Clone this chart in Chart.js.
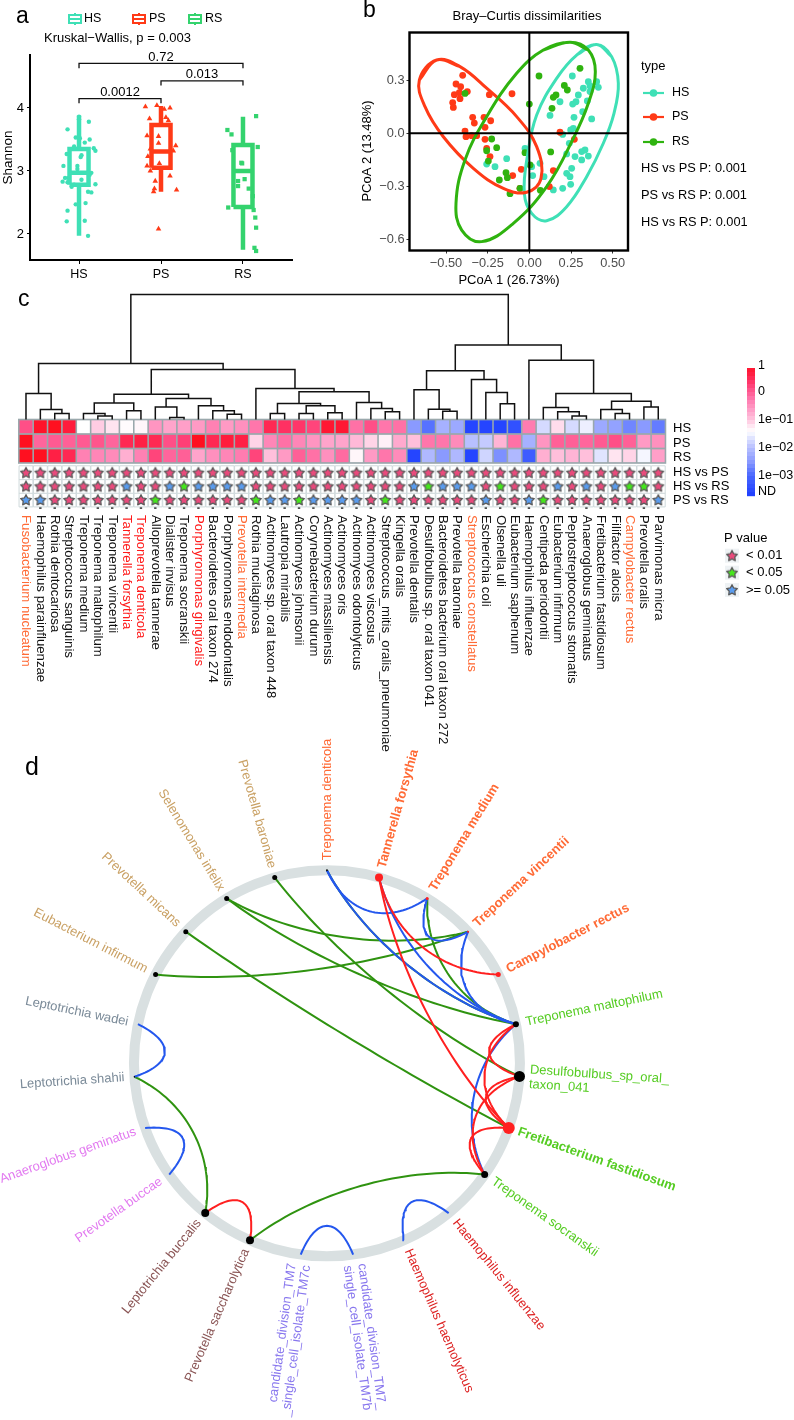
<!DOCTYPE html>
<html>
<head>
<meta charset="utf-8">
<title>Oral microbiome figure</title>
<script src="https://cdn.jsdelivr.net/npm/chart.js@4"></script>
<style>
  body { margin: 0; background: #fff; }
  #page { position: relative; width: 794px; height: 1420px; overflow: hidden; }
  canvas { position: absolute; }
</style>
</head>
<body>
<div id="page">
  <canvas id="panelD" width="794" height="690" style="left:0;top:730px"></canvas>
  <canvas id="panelC" width="794" height="470" style="left:0;top:285px"></canvas>
  <canvas id="panelA" width="340" height="290" style="left:0;top:0"></canvas>
  <canvas id="panelB" width="454" height="290" style="left:340px;top:0"></canvas>
</div>
<script>
// ---------- panel a data ----------
const groups = ['HS', 'PS', 'RS'];
const boxLow = [1.97, 2.67, 1.75];
const boxQ1 = [2.78, 3.05, 2.43];
const boxMedian = [2.97, 3.31, 3.00];
const boxQ3 = [3.35, 3.73, 3.41];
const boxHigh = [3.88, 4.03, 3.86];
const shannonHS = [[1.00,3.86],[1.00,3.82],[1.12,3.78],[0.86,3.66],[0.96,3.53],[1.01,3.52],[1.13,3.50],[1.07,3.45],[1.18,3.36],[1.20,3.32],[0.94,3.39],[0.85,3.27],[1.03,3.25],[1.02,3.22],[0.81,3.08],[0.98,3.08],[0.98,3.03],[1.15,2.97],[1.13,2.94],[0.83,2.89],[0.87,2.89],[0.80,2.83],[0.86,2.82],[1.03,2.86],[0.91,2.75],[0.94,2.78],[1.20,2.79],[1.11,2.67],[1.15,2.66],[0.96,2.47],[1.08,2.49],[0.86,2.37],[0.85,2.20],[1.07,2.21],[1.11,1.97]];
const shannonPS = [[1.81,4.02],[1.95,4.04],[2.04,3.98],[2.11,4.00],[1.86,3.83],[2.06,3.85],[2.09,3.80],[1.83,3.56],[1.97,3.55],[1.97,3.44],[2.18,3.40],[1.87,3.35],[2.15,3.32],[1.84,3.23],[1.83,3.08],[1.98,3.12],[1.87,3.00],[2.11,2.92],[1.93,2.84],[1.92,2.72],[1.91,2.67],[2.19,2.70],[1.97,2.08]];
const shannonRS = [[3.16,3.87],[2.81,3.65],[2.86,3.58],[3.18,3.38],[2.87,3.33],[2.98,3.13],[2.99,3.12],[3.02,2.87],[2.94,2.84],[2.94,2.76],[3.07,2.72],[3.12,2.60],[2.82,2.42],[3.13,2.38],[3.15,2.26],[3.16,2.10],[3.14,1.78],[3.16,1.73]];
const bracketFrom = [1, 2, 1];
const bracketTo = [3, 3, 2];
const bracketLevel = [4.706, 4.43, 4.148];
const bracketLabels = ['0.72', '0.013', '0.0012'];

// ---------- panel b data ----------
const pcoaHS = [[.258,.323],[.354,.291],[.404,.291],[.364,.267],[.414,.259],[.324,.254],[.364,.235],[.294,.216],[.348,.182],[.280,.178],[.260,.165],[.184,.178],[.320,.122],[.124,.101],[.268,.090],[.374,.081],[.264,.028],[.248,.019],[.200,-.006],[.240,-.056],[.334,-.094],[.314,-.103],[.354,-.128],[.224,-.116],[.274,-.131],[.314,-.150],[-.026,-.085],[-.136,-.143],[-.256,-.173],[-.206,-.188],[.254,-.197],[.244,-.244],[.224,-.225],[.020,-.238],[.088,-.244],[.248,-.287],[.200,-.310],[.144,-.319],[.064,-.169],[.014,-.188]];
const pcoaPS = [[-.400,.327],[-.440,.278],[-.412,.263],[-.372,.235],[-.420,.229],[-.450,.218],[-.416,.195],[-.240,.218],[-.104,.223],[-.460,.173],[-.456,.146],[-.340,.090],[-.272,.090],[-.232,.071],[-.330,.058],[-.266,.034],[-.386,.013],[-.380,-.019],[-.346,-.013],[-.316,-.013],[-.266,-.034],[.184,.006],[.270,-.034],[-.256,-.085],[-.236,-.131],[-.100,-.238],[-.048,-.203],[.144,-.210],[.120,-.300],[-.056,-.310]];
const pcoaRS = [[.304,.366],[.058,.323],[.210,.270],[.228,.244],[.160,.216],[.144,.203],[-.386,.225],[.000,.165],[.136,.141],[-.226,-.032],[-.196,-.081],[-.256,-.098],[-.026,-.109],[.128,-.105],[-.246,-.156],[.004,-.178],[-.140,-.222],[-.132,-.250],[-.180,-.263],[-.056,-.310],[.066,-.321],[-.116,-.340]];
const ellipseHS = [[.404,.501],[.494,.432],[.534,.282],[.508,.113],[.444,-.056],[.344,-.244],[.224,-.413],[.104,-.492],[.014,-.451],[-.030,-.338],[-.012,-.131],[.044,.103],[.164,.310],[.284,.441]];
const ellipsePS = [[-.556,.413],[-.660,.300],[-.626,.150],[-.516,-.019],[-.336,-.197],[-.156,-.310],[-.016,-.332],[.070,-.254],[.044,-.075],[-.076,.094],[-.256,.254],[-.416,.376]];
const ellipseRS = [[.244,.513],[.354,.469],[.396,.347],[.354,.169],[.264,-.028],[.104,-.300],[-.096,-.507],[-.286,-.610],[-.406,-.545],[-.440,-.394],[-.386,-.150],[-.256,.094],[-.076,.338],[.084,.469]];

// ---------- panel c data ----------
const taxa = ['Fusobacterium nucleatum','Haemophilus parainfluenzae','Rothia dentocariosa','Streptococcus sanguinis','Treponema medium','Treponema maltophilum','Treponema vincentii','Tannerella forsythia','Treponema denticola','Alloprevotella tannerae','Dialister invisus','Treponema socranskii','Porphyromonas gingivalis','Bacteroidetes oral taxon 274','Porphyromonas endodontalis','Prevotella intermedia','Rothia mucilaginosa','Actinomyces sp. oral taxon 448','Lautropia mirabilis','Actinomyces johnsonii','Corynebacterium durum','Actinomyces massiliensis','Actinomyces oris','Actinomyces odontolyticus','Actinomyces viscosus','Streptococcus_mitis_oralis_pneumoniae','Kingella oralis','Prevotella dentalis','Desulfobulbus sp. oral taxon 041','Bacteroidetes bacterium oral taxon 272','Prevotella baroniae','Streptococcus constellatus','Escherichia coli','Olsenella uli','Eubacterium saphenum','Haemophilus influenzae','Centipeda periodontii','Eubacterium infirmum','Peptostreptococcus stomatis','Anaeroglobus geminatus','Fretibacterium fastidiosum','Filifactor alocis','Campylobacter rectus','Prevotella oralis','Parvimonas micra'];
const redTaxa = ['Tannerella forsythia','Treponema denticola','Porphyromonas gingivalis'];
const orangeTaxa = ['Fusobacterium nucleatum','Prevotella intermedia','Streptococcus constellatus','Campylobacter rectus'];
// abundance on the colour key: 1, 0, -1 = 1e-01, -2 = 1e-02, -3 = 1e-03, -3.6 = ND
const heatHS = [.1,.9,1,.7,-1.43,-1.05,-1.2,-1.4,-1.35,-.55,-.7,-.65,-.6,-.35,-.6,-.5,-.25,.5,.4,.35,.2,.8,.8,-.2,.1,-.25,-.2,-2.5,-2.9,-2.2,-2.3,-3.6,-3.6,-3.6,-3.4,-.3,-1.75,-1.15,-1.75,-1.55,-2.3,-2.4,-2.7,-2.5,-2.8];
const heatPS = [1,-.1,0,-.05,0,.05,-.1,.5,.6,.5,.1,.25,1,.5,.7,.6,-1.1,-.4,-.2,-.4,-.55,-.7,-.7,-.9,-1.1,-1.3,-.75,-.95,-.25,-.25,-.45,-2,-1.9,-.85,-.2,-2.2,-.55,-.05,-.05,-.1,0,.1,-.05,-.6,-.5];
const heatRS = [1,1,.6,.5,-.35,-.4,-.45,-.8,-.35,.2,-.1,-.05,-.7,-.5,-.4,-.3,.2,-.95,-.6,-.05,-.2,-.5,-.15,-1.35,-.6,-.25,-.45,-3.6,-2.1,-2.5,-2.1,-3.6,-1.8,-2.6,-2.1,-3.2,-.8,-.95,-.85,-.95,-1.65,-1.2,-1.1,-1.5,-.65];
const heatKeyLabels = ['1','0','1e\u221201','1e\u221202','1e\u221203','ND'];
const heatKeyValues = [.92,0,-1,-2,-3,-3.6];
// p = <0.01, g = <0.05, b = >=0.05
const sigHSvsPS = 'ppppppppppppppppppppppppppppppppppppppppppppp';
const sigHSvsRS = 'pppppppbppbgbbbbpppppppppppbgbbbpgpppbpbpbggp';
const sigPSvsRS = 'bbpppppppgppppppgbbgbbbbpgppppppbppbgpppppppb';
const contrastLabels = ['HS vs PS', 'HS vs RS', 'PS vs RS'];
// hclust style merges: negative = leaf number, positive = earlier merge row (1 based), then height
const merges = [[-3,-4,.41],[-2,1,.69],[-1,2,1.79],[-6,-7,.25],[-5,4,.41],[-8,-9,.60],[5,6,1.13],[-11,-12,.14],[-10,8,.87],[-15,-16,.37],[-14,10,.60],[-13,11,.94],[9,12,1.45],[7,13,1.75],[-18,-19,.41],[-20,-21,.41],[-22,-23,.46],[16,17,.94],[15,18,1.10],[-26,-27,.53],[-25,20,.76],[-24,21,1.17],[19,22,1.91],[-17,23,2.14],[14,24,3.45],[3,25,3.86],[-30,-31,.57],[-29,27,.71],[-28,28,2.05],[-34,-35,1.08],[-33,30,1.86],[-32,31,2.76],[29,32,3.36],[-39,-40,.25],[-38,34,.53],[-37,35,.83],[-42,-43,.41],[-41,37,.69],[-44,-45,.87],[38,39,1.26],[36,40,1.79],[-36,41,4.09],[33,42,5.13],[26,43,8.62]];

// ---------- panel d data ----------
const nodeNames = ['Treponema denticola','Tannerella forsythia','Treponema medium','Treponema vincentii','Campylobacter rectus','Treponema maltophilum','Desulfobulbus_sp_oral_\ntaxon_041','Fretibacterium fastidiosum','Treponema socranskii','Haemophilus influenzae','Haemophilus haemolyticus','candidate_division_TM7_\nsingle_cell_isolate_TM7b','candidate_division_TM7\n_single_cell_isolate_TM7c','Prevotella saccharolytica','Leptotrichia buccalis','Prevotella buccae','Anaeroglobus geminatus','Leptotrichia shahii','Leptotrichia wadei','Eubacterium infirmum','Prevotella micans','Selenomonas infelix','Prevotella baroniae'];
const nodeAngles = [90,74.35,58.7,43,27.4,11.7,-3.9,-19.6,-35.2,-50.9,-66.5,-82.2,-97.8,-113.5,-129.1,-144.8,-160.4,-176,168.3,152.6,137,121.3,105.7];
const nodeSizes = [1,4,1.5,1,2.5,3,5.5,6,3.5,0,0,0,0,4,4,0,0,.8,0,2.5,2.5,2.5,2.5];
const nodeDotColors = ['#111','#ff2020','#ff2020','#ff2020','#ff2020','#000','#000','#ff2020','#000','#000','#000','#000','#000','#000','#000','#000','#000','#000','#000','#000','#000','#000','#000'];
const nodeLabelColors = ['#ff6a35','#ff6a35','#ff6a35','#ff6a35','#ff6a35','#55cc22','#55cc22','#55cc22','#55cc22','#dd2222','#dd2222','#8877ee','#8877ee','#8a5555','#8a5555','#e27af0','#e27af0','#7a8a98','#7a8a98','#c9a063','#c9a063','#c9a063','#c9a063'];
const boldNodes = [1,2,3,4,7];
const greenEdges = [[0,5],[2,5],[3,19],[3,21],[5,21],[6,22],[7,20],[17,14],[8,13]];
const blueEdges = [[0,2],[0,5],[1,5],[2,3],[3,5],[5,8],[18,17],[16,15],[12,11],[10,9]];
const redEdges = [[1,7],[1,4],[5,6],[5,7],[6,7],[6,8],[7,8],[14,13]];

// ---------- shared helpers ----------
const FONT = '"Liberation Sans", Arial, sans-serif';
const colHS = '#3fe0b6', colPS = '#ff3a17', colRS = '#34d36e', colRSb = '#2fb30f';

function toXY(list) { return list.map(p => ({ x: p[0], y: p[1] })); }

function txt(ctx, text, x, y, o) {
    o = o || {};
    ctx.save();
    ctx.translate(x, y);
    if (o.rot) ctx.rotate(o.rot * Math.PI / 180);
    ctx.font = (o.bold ? 'bold ' : '') + (o.size || 13) + 'px ' + FONT;
    ctx.fillStyle = o.color || '#000';
    ctx.textAlign = o.align || 'left';
    ctx.textBaseline = 'middle';
    ctx.fillText(text, 0, 0);
    ctx.restore();
}

function fixedWidth(w) { return s => { s.width = w; }; }
function fixedHeight(h) { return s => { s.height = h; }; }
function setTicks(values) { return s => { s.ticks = values.map(v => ({ value: v })); }; }

// repeat the ends so the smoothed outline closes without a kink
function closeLoop(list) {
    const n = list.length;
    return toXY([list[n - 1]].concat(list, [list[0], list[1]]));
}

const baseOptions = { responsive: false, animation: false, events: [], plugins: { legend: { display: false }, tooltip: { enabled: false } } };

// ---------- panel a ----------
function boxPath(i) {
    const c = i + 1, w = 0.116;
    return [
        { x: c, y: boxLow[i] }, { x: c, y: boxQ1[i] }, { x: c, y: null },
        { x: c, y: boxQ3[i] }, { x: c, y: boxHigh[i] }, { x: c, y: null },
        { x: c - w, y: boxQ1[i] }, { x: c + w, y: boxQ1[i] }, { x: c + w, y: boxQ3[i] }, { x: c - w, y: boxQ3[i] }, { x: c - w, y: boxQ1[i] }, { x: c, y: null },
        { x: c - w, y: boxMedian[i] }, { x: c + w, y: boxMedian[i] }
    ];
}
function bracketPath() {
    const pts = [];
    bracketLevel.forEach((lv, i) => {
        pts.push({ x: bracketFrom[i], y: lv - 0.075 }, { x: bracketFrom[i], y: lv }, { x: bracketTo[i], y: lv }, { x: bracketTo[i], y: lv - 0.075 }, { x: bracketTo[i], y: null });
    });
    return pts;
}
const lineSet = (data, color, width) => ({ data, showLine: true, borderColor: color, borderWidth: width, pointRadius: 0, spanGaps: false, clip: false, tension: 0, borderJoinStyle: 'miter' });
const panelAText = {
    id: 'panelAText',
    afterDraw(chart) {
        const c = chart.ctx, sx = chart.scales.x;
        txt(c, 'a', 16, 17, { size: 23 });
        txt(c, 'Kruskal\u2212Wallis, p = 0.003', 44, 38, { size: 13 });
        const keyX = [69, 133, 189], textX = [84, 149, 205], cols = [colHS, colPS, colRS];
        groups.forEach((g, i) => {
            c.strokeStyle = cols[i]; c.lineWidth = 2;
            c.strokeRect(keyX[i], 15, 12, 8);
            c.beginPath();
            c.moveTo(keyX[i], 19); c.lineTo(keyX[i] + 12, 19);
            c.moveTo(keyX[i] + 6, 13); c.lineTo(keyX[i] + 6, 15);
            c.moveTo(keyX[i] + 6, 23); c.lineTo(keyX[i] + 6, 25);
            c.stroke();
            txt(c, g, textX[i], 19, { size: 12.5 });
        });
        bracketLabels.forEach((t, i) => {
            const mid = (bracketFrom[i] + bracketTo[i]) / 2;
            txt(c, t, sx.getPixelForValue(mid), chart.scales.y.getPixelForValue(bracketLevel[i]) - 6.5, { size: 13, align: 'center' });
        });
    }
};
new Chart(document.getElementById('panelA'), {
    type: 'scatter',
    data: { datasets: [
        lineSet(bracketPath(), '#111', 1.3),
        lineSet(boxPath(0), colHS, 4.5),
        lineSet(boxPath(1), colPS, 4.5),
        lineSet(boxPath(2), colRS, 4.5),
        { data: toXY(shannonHS), pointStyle: 'circle', pointRadius: 2.2, pointBorderWidth: 0, pointBackgroundColor: colHS },
        { data: toXY(shannonPS), pointStyle: 'triangle', pointRadius: 3.2, pointBorderWidth: 0, pointBackgroundColor: colPS },
        { data: toXY(shannonRS), pointStyle: 'rect', pointRadius: 3, pointBorderWidth: 0, pointBackgroundColor: colRS }
    ] },
    options: Object.assign({}, baseOptions, {
        layout: { autoPadding: false, padding: { top: 55, right: 48 } },
        scales: {
            x: { type: 'linear', min: 0.402, max: 3.598, afterFit: fixedHeight(30), afterBuildTicks: setTicks([1, 2, 3]),
                border: { display: true, width: 2, color: '#000' }, grid: { drawOnChartArea: false, tickLength: 4, color: '#000' },
                ticks: { autoSkip: false, maxRotation: 0, padding: 3, color: '#000', font: { family: FONT, size: 12.5 }, callback: v => groups[v - 1] } },
            y: { type: 'linear', min: 1.587, max: 4.84, afterFit: fixedWidth(30), afterBuildTicks: setTicks([2, 3, 4]),
                border: { display: true, width: 2, color: '#000' }, grid: { drawOnChartArea: false, tickLength: 3, color: '#000' },
                title: { display: true, text: 'Shannon', color: '#000', padding: 0, font: { family: FONT, size: 13.5 } },
                ticks: { padding: 3, color: '#000', font: { family: FONT, size: 13 } } }
        }
    }),
    plugins: [panelAText]
});

// ---------- panel b ----------
const panelBText = {
    id: 'panelBText',
    afterDraw(chart) {
        const c = chart.ctx, a = chart.chartArea;
        c.strokeStyle = '#000'; c.lineWidth = 2.4;
        c.strokeRect(a.left, a.top, a.right - a.left, a.bottom - a.top);
        txt(c, 'b', 23, 11, { size: 23 });
        txt(c, 'Bray\u2013Curtis dissimilarities', 187, 16, { size: 13, align: 'center' });
        txt(c, 'PCoA 1 (26.73%)', 169, 280, { size: 13, align: 'center' });
        txt(c, 'PCoA 2 (13.48%)', 27, 151, { size: 13, align: 'center', rot: -90 });
        txt(c, 'type', 301, 66, { size: 13 });
        const keyY = [93, 117, 142], cols = [colHS, colPS, colRSb];
        groups.forEach((g, i) => {
            c.strokeStyle = cols[i]; c.lineWidth = 2.2;
            c.beginPath(); c.moveTo(303, keyY[i]); c.lineTo(324, keyY[i]); c.stroke();
            c.fillStyle = cols[i];
            c.beginPath(); c.arc(313.5, keyY[i], 3.8, 0, Math.PI * 2); c.fill();
            txt(c, g, 332, keyY[i], { size: 12.5 });
        });
        ['HS vs PS P: 0.001', 'PS vs RS P: 0.001', 'HS vs RS P: 0.001'].forEach((t, i) => {
            txt(c, t, 301, [168, 195, 222][i], { size: 12.8 });
        });
    }
};
const ellipseSet = (list, color) => Object.assign(lineSet(closeLoop(list), color, 3), { tension: 0.4 });
const dotSet = (list, color) => ({ data: toXY(list), pointRadius: 3.4, pointBorderWidth: 0, pointBackgroundColor: color });
new Chart(document.getElementById('panelB'), {
    type: 'scatter',
    data: { datasets: [
        lineSet([{ x: 0, y: -0.66 }, { x: 0, y: 0.568 }, { x: 0, y: null }, { x: -0.719, y: 0 }, { x: 0.592, y: 0 }], '#000', 2),
        ellipseSet(ellipseRS, colRSb),
        ellipseSet(ellipsePS, colPS),
        ellipseSet(ellipseHS, colHS),
        dotSet(pcoaRS, colRSb),
        dotSet(pcoaPS, colPS),
        dotSet(pcoaHS, colHS)
    ] },
    options: Object.assign({}, baseOptions, {
        layout: { autoPadding: false, padding: { top: 32.5, right: 166 } },
        scales: {
            x: { type: 'linear', min: -0.719, max: 0.592, afterFit: fixedHeight(39.5), afterBuildTicks: setTicks([-0.5, -0.25, 0, 0.25, 0.5]),
                border: { display: false }, grid: { drawOnChartArea: false, tickLength: 3, color: '#333' },
                ticks: { autoSkip: false, maxRotation: 0, padding: 2, color: '#4d4d4d', font: { family: FONT, size: 12.8 }, callback: v => v.toFixed(2).replace('-', '\u2212') } },
            y: { type: 'linear', min: -0.66, max: 0.568, afterFit: fixedWidth(69.5), afterBuildTicks: setTicks([-0.6, -0.3, 0, 0.3]),
                border: { display: false }, grid: { drawOnChartArea: false, tickLength: 3, color: '#333' },
                ticks: { padding: 2, color: '#4d4d4d', font: { family: FONT, size: 12.8 }, callback: v => v.toFixed(1).replace('-', '\u2212') } }
        }
    }),
    plugins: [panelBText]
});

// ---------- panel c ----------
const heatStops = [[-3.7,'#1f3fff'],[-3,'#4a68ff'],[-2.5,'#8a9aff'],[-2,'#b8c0ff'],[-1.6,'#e6e9ff'],[-1.43,'#ffffff'],[-1.2,'#ffe4f0'],[-1,'#ffc4de'],[-.7,'#ffa4cb'],[-.3,'#ff7cb0'],[0,'#ff5a92'],[.3,'#ff3a70'],[.6,'#ff2045'],[1,'#ff1020']];
function heatColor(v) {
    if (v <= heatStops[0][0]) return heatStops[0][1];
    for (let i = 1; i < heatStops.length; i++) {
        if (v <= heatStops[i][0]) {
            const [v0, c0] = heatStops[i - 1], [v1, c1] = heatStops[i];
            const t = (v - v0) / (v1 - v0);
            const ch = k => {
                const a = parseInt(c0.substr(k, 2), 16), b = parseInt(c1.substr(k, 2), 16);
                return Math.round(a + (b - a) * t);
            };
            return 'rgb(' + ch(1) + ',' + ch(3) + ',' + ch(5) + ')';
        }
    }
    return heatStops[heatStops.length - 1][1];
}

function starImage(fill) {
    const cv = document.createElement('canvas');
    cv.width = 14; cv.height = 14;
    const c = cv.getContext('2d');
    c.beginPath();
    for (let i = 0; i < 10; i++) {
        const r = i % 2 ? 2.9 : 5.6, a = -Math.PI / 2 + i * Math.PI / 5;
        c[i ? 'lineTo' : 'moveTo'](7 + r * Math.cos(a), 7.3 + r * Math.sin(a));
    }
    c.closePath();
    c.fillStyle = fill; c.fill();
    c.strokeStyle = '#5c5c5c'; c.lineWidth = 1.3; c.lineJoin = 'round'; c.stroke();
    return cv;
}
const stars = { p: starImage('#ea4a7c'), g: starImage('#45e61c'), b: starImage('#5a9cee') };

function dendrogramPath() {
    const nodeX = [], pts = [];
    const xOf = id => (id < 0 ? -id : nodeX[id - 1]);
    const hOf = id => (id < 0 ? 0 : merges[id - 1][2]);
    merges.forEach(m => {
        const xa = xOf(m[0]), xb = xOf(m[1]);
        pts.push({ x: xa, y: hOf(m[0]) }, { x: xa, y: m[2] }, { x: xb, y: m[2] }, { x: xb, y: hOf(m[1]) }, { x: xb, y: null });
        nodeX.push((xa + xb) / 2);
    });
    return pts;
}
const heatRows = [heatHS, heatPS, heatRS];
const sigRows = [sigHSvsPS, sigHSvsRS, sigPSvsRS];
const sigRowY = [-3.67, -4.61, -5.55];

const heatSets = heatRows.map((row, r) => ({
    data: row.map((v, i) => ({ x: i + 1, y: -0.5 - r })),
    pointStyle: 'rect', pointRadius: 9.05, pointBorderWidth: 0,
    pointBackgroundColor: row.map(heatColor), clip: false
}));
const starSets = sigRows.map((row, r) => ({
    data: taxa.map((t, i) => ({ x: i + 1, y: sigRowY[r] })),
    pointStyle: taxa.map((t, i) => stars[row[i]]), pointRadius: 5, clip: false
}));
const starCells = sigRows.map((row, r) => ({
    data: taxa.map((t, i) => ({ x: i + 1, y: sigRowY[r] })),
    pointStyle: 'rect', pointRadius: 9.8, pointBorderWidth: 1, pointBorderColor: '#cfd9db', pointBackgroundColor: '#fff', clip: false
}));

const panelCText = {
    id: 'panelCText',
    beforeDatasetsDraw(chart) {
        // grey frame behind the heat cells
        const c = chart.ctx, sx = chart.scales.x, sy = chart.scales.y;
        c.fillStyle = '#9aa8ac';
        const l = sx.getPixelForValue(0.5), t = sy.getPixelForValue(0);
        c.fillRect(l - 0.8, t - 0.8, sx.getPixelForValue(45.5) - l + 1.6, sy.getPixelForValue(-3) - t + 1.6);
    },
    afterDraw(chart) {
        const c = chart.ctx, sx = chart.scales.x;
        txt(c, 'c', 18, 15, { size: 23 });
        taxa.forEach((name, i) => {
            const col = redTaxa.includes(name) ? '#ff1a1a' : orangeTaxa.includes(name) ? '#ff6a35' : '#111';
            txt(c, name, sx.getPixelForValue(i + 1), 230, { size: 13.2, rot: 90, color: col });
        });
        groups.forEach((g, i) => txt(c, g, 673, 143.5 + i * 14.5, { size: 13 }));
        contrastLabels.forEach((g, i) => txt(c, g, 673, 187.5 + i * 14, { size: 13 }));
        // colour key, each step taken from the same colour scale
        const keyY = v => 106.7 - 28 * v;
        for (let y = 83; y < 210; y += 4) {
            c.fillStyle = heatColor((106.7 - y - 2) / 28);
            c.fillRect(747, y, 8, 4.2);
        }
        heatKeyLabels.forEach((t, i) => txt(c, t, 758, keyY(heatKeyValues[i]) - 0.5, { size: 12.5 }));
        txt(c, 'P value', 724, 253, { size: 13 });
        ['p', 'g', 'b'].forEach((k, i) => {
            const y = [270.7, 287.7, 305][i];
            c.fillStyle = '#eef2f4';
            c.fillRect(725, y - 7, 14, 14);
            c.drawImage(stars[k], 725, y - 7);
            txt(c, ['< 0.01', '< 0.05', '>= 0.05'][i], 746, y, { size: 13 });
        });
    }
};
new Chart(document.getElementById('panelC'), {
    type: 'scatter',
    data: { datasets: [].concat(
        starSets,
        starCells,
        heatSets,
        [{ data: taxa.map((t, i) => ({ x: i + 1, y: -6.08 })), pointStyle: 'rect', pointRadius: 1.7, pointBorderWidth: 0, pointBackgroundColor: '#333', clip: false }],
        [lineSet(dendrogramPath(), '#111', 1.5)]
    ) },
    options: Object.assign({}, baseOptions, {
        layout: { autoPadding: false, padding: { left: 18.8, right: 128.55, top: 0, bottom: 245 } },
        scales: {
            x: { type: 'linear', display: false, min: 0.5, max: 45.5 },
            y: { type: 'linear', display: false, min: -6.241, max: 9.276 }
        }
    }),
    plugins: [panelCText]
});

// ---------- panel d ----------
const ringPx = 193;
function polar(angle) {
    const a = angle * Math.PI / 180;
    return { x: Math.cos(a), y: Math.sin(a) };
}
// cubic curve pulled toward the middle of the ring, like the circular network layout
function edgeCurve(e) {
    const p0 = polar(nodeAngles[e[0]]), p1 = polar(nodeAngles[e[1]]), k = 0.8, lean = 0.2, pts = [];
    const c0 = { x: p0.x * k + (p1.x - p0.x) * lean, y: p0.y * k + (p1.y - p0.y) * lean };
    const c1 = { x: p1.x * k + (p0.x - p1.x) * lean, y: p1.y * k + (p0.y - p1.y) * lean };
    for (let i = 0; i <= 40; i++) {
        const t = i / 40, u = 1 - t;
        const a = u * u * u, b = 3 * u * u * t, d = 3 * u * t * t, f = t * t * t;
        pts.push({ x: a * p0.x + b * c0.x + d * c1.x + f * p1.x, y: a * p0.y + b * c0.y + d * c1.y + f * p1.y });
    }
    return pts;
}
const edgeSets = (edges, color) => edges.map(e => lineSet(edgeCurve(e), color, 2));
const panelDText = {
    id: 'panelDText',
    afterDraw(chart) {
        const c = chart.ctx, sx = chart.scales.x, sy = chart.scales.y;
        txt(c, 'd', 25, 38, { size: 25 });
        nodeNames.forEach((name, i) => {
            const a = nodeAngles[i], p = polar(a), lines = name.split('\n');
            const flip = p.x < -0.001;
            const rOut = 1 + 10 / ringPx;
            const x = sx.getPixelForValue(p.x * rOut), y = sy.getPixelForValue(p.y * rOut);
            c.save();
            c.translate(x, y);
            c.rotate((flip ? 180 - a : -a) * Math.PI / 180);
            lines.forEach((ln, j) => {
                const off = (j - (lines.length - 1) / 2) * 14.5;
                txt(c, ln, 0, off, { size: 13, bold: boldNodes.includes(i), color: nodeLabelColors[i], align: flip ? 'right' : 'left' });
            });
            c.restore();
        });
    }
};
new Chart(document.getElementById('panelD'), {
    type: 'scatter',
    data: { datasets: [].concat(
        [{ data: nodeAngles.map(a => polar(a)), pointRadius: nodeSizes, pointBorderWidth: 0, pointBackgroundColor: nodeDotColors, clip: false }],
        edgeSets(redEdges, '#ff2020'),
        edgeSets(blueEdges, '#2457ee'),
        edgeSets(greenEdges, '#2f9310'),
        [{ data: [{ x: 0, y: 0 }], pointRadius: ringPx, pointBorderWidth: 10, pointBorderColor: '#d9e0e1', pointBackgroundColor: 'rgba(0,0,0,0)', clip: false }]
    ) },
    options: Object.assign({}, baseOptions, {
        layout: { autoPadding: false },
        scales: {
            x: { type: 'linear', display: false, min: -1.694, max: 2.420 },
            y: { type: 'linear', display: false, min: -1.848, max: 1.727 }
        }
    }),
    plugins: [panelDText]
});
</script>
</body>
</html>
